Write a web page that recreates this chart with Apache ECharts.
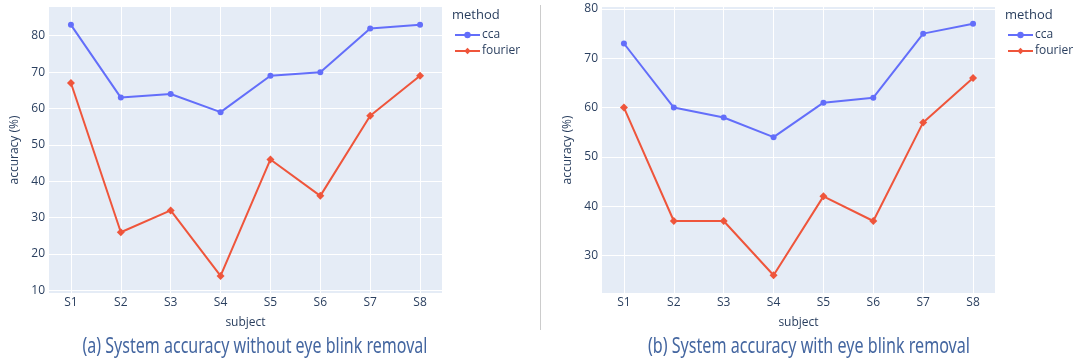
<!DOCTYPE html>
<html>
<head>
<meta charset="utf-8">
<script src="https://cdn.jsdelivr.net/npm/echarts@6/dist/echarts.min.js"></script>
<style>
  html, body { margin: 0; padding: 0; background: #fff; }
  #chart { width: 1075px; height: 363px; }
</style>
</head>
<body>
<div id="chart"></div>
<script>
// Subjects on the x axis
const subjects = ['S1', 'S2', 'S3', 'S4', 'S5', 'S6', 'S7', 'S8'];

// (a) accuracy without eye blink removal
const ccaRaw = [83, 63, 64, 59, 69, 70, 82, 83];
const fourierRaw = [67, 26, 32, 14, 46, 36, 58, 69];

// (b) accuracy with eye blink removal
const ccaClean = [73, 60, 58, 54, 61, 62, 75, 77];
const fourierClean = [60, 37, 37, 26, 42, 37, 57, 66];

// Tick labels of the y axes
const yTicksRaw = [10, 20, 30, 40, 50, 60, 70, 80];
const yTicksClean = [30, 40, 50, 60, 70, 80];

const captions = [
  '(a) System accuracy without eye blink removal',
  '(b) System accuracy with eye blink removal'
];

const TEXT = '#2a3f5f';
const FONT = '"Open Sans", "Noto Sans", sans-serif';
const CAPTION_FONT = '"Noto Sans", "Open Sans", sans-serif';
const CAPTION_SIZE = 21;
const CCA = '#636efa';
const FOURIER = '#EF553B';
const subjectIdx = subjects.map((_, i) => i);

// Captions are set in a condensed style: squeeze the text to a given width
const measureCtx = document.createElement('canvas').getContext('2d');
function squeeze(text, width) {
  measureCtx.font = CAPTION_SIZE + 'px ' + CAPTION_FONT;
  return width / measureCtx.measureText(text).width;
}

function caption(text, cx, cy, width) {
  return {
    type: 'text', x: cx, y: cy, scaleX: squeeze(text, width),
    style: { text, fill: '#4466a0', fontSize: CAPTION_SIZE, fontFamily: CAPTION_FONT,
             align: 'center', verticalAlign: 'middle' }
  };
}

function xAxisFor(gridIndex) {
  return {
    type: 'value', gridIndex,
    min: -0.44, max: 7.44,
    name: 'subject', nameLocation: 'middle', nameGap: 24,
    nameTextStyle: { color: TEXT, fontSize: 12, fontFamily: FONT },
    axisLine: { show: false },
    axisTick: { show: false, customValues: subjectIdx },
    axisLabel: {
      customValues: subjectIdx, margin: 4,
      color: TEXT, fontSize: 12, fontFamily: FONT,
      formatter: v => subjects[Math.round(v)]
    },
    splitLine: { show: true, lineStyle: { color: '#ffffff', width: 1 } }
  };
}

function yAxisFor(gridIndex, min, max, ticks) {
  return {
    type: 'value', gridIndex, min, max,
    name: 'accuracy (%)', nameLocation: 'middle', nameGap: 28,
    nameTextStyle: { color: TEXT, fontSize: 12, fontFamily: FONT },
    axisLine: { show: false },
    axisTick: { show: false, customValues: ticks },
    axisLabel: { customValues: ticks, margin: 4, color: TEXT, fontSize: 12, fontFamily: FONT },
    splitLine: { show: true, lineStyle: { color: '#ffffff', width: 1 } }
  };
}

function lineSeries(name, values, color, symbol, idx) {
  return {
    name, type: 'line', xAxisIndex: idx, yAxisIndex: idx,
    data: values.map((v, i) => [i, v]),
    symbol, symbolSize: symbol === 'circle' ? 6 : 8,
    showSymbol: true,
    lineStyle: { color, width: 2 },
    itemStyle: { color },
    emphasis: { disabled: true },
    animation: false
  };
}

function legendAt(left) {
  return {
    orient: 'vertical', left, top: 24,
    itemWidth: 25, itemHeight: 8, itemGap: 4,
    data: ['cca', 'fourier'],
    textStyle: { color: TEXT, fontSize: 12, fontFamily: FONT, padding: [0, 0, 0, -3] }
  };
}

const chart = echarts.init(document.getElementById('chart'), null, { renderer: 'canvas' });
chart.setOption({
  animation: false,
  backgroundColor: '#ffffff',
  grid: [
    { left: 49, top: 7, width: 393, height: 286, show: true, backgroundColor: '#E5ECF6', borderWidth: 0 },
    { left: 602, top: 7, width: 393, height: 286, show: true, backgroundColor: '#E5ECF6', borderWidth: 0 }
  ],
  xAxis: [xAxisFor(0), xAxisFor(1)],
  yAxis: [
    yAxisFor(0, 9.3, 87.9, yTicksRaw),
    yAxisFor(1, 22.4, 80.4, yTicksClean)
  ],
  legend: [legendAt(449), legendAt(1002)],
  series: [
    lineSeries('cca', ccaRaw, CCA, 'circle', 0),
    lineSeries('fourier', fourierRaw, FOURIER, 'diamond', 0),
    lineSeries('cca', ccaClean, CCA, 'circle', 1),
    lineSeries('fourier', fourierClean, FOURIER, 'diamond', 1)
  ],
  graphic: [
    { type: 'text', left: 452, top: 9,
      style: { text: 'method', fill: TEXT, fontSize: 13, fontFamily: FONT } },
    { type: 'text', left: 1005, top: 9,
      style: { text: 'method', fill: TEXT, fontSize: 13, fontFamily: FONT } },
    { type: 'line', shape: { x1: 540.5, y1: 5, x2: 540.5, y2: 330 },
      style: { stroke: '#cccccc', lineWidth: 1 } },
    caption(captions[0], 255, 347, 345),
    caption(captions[1], 809, 347, 322)
  ]
});
</script>
</body>
</html>
